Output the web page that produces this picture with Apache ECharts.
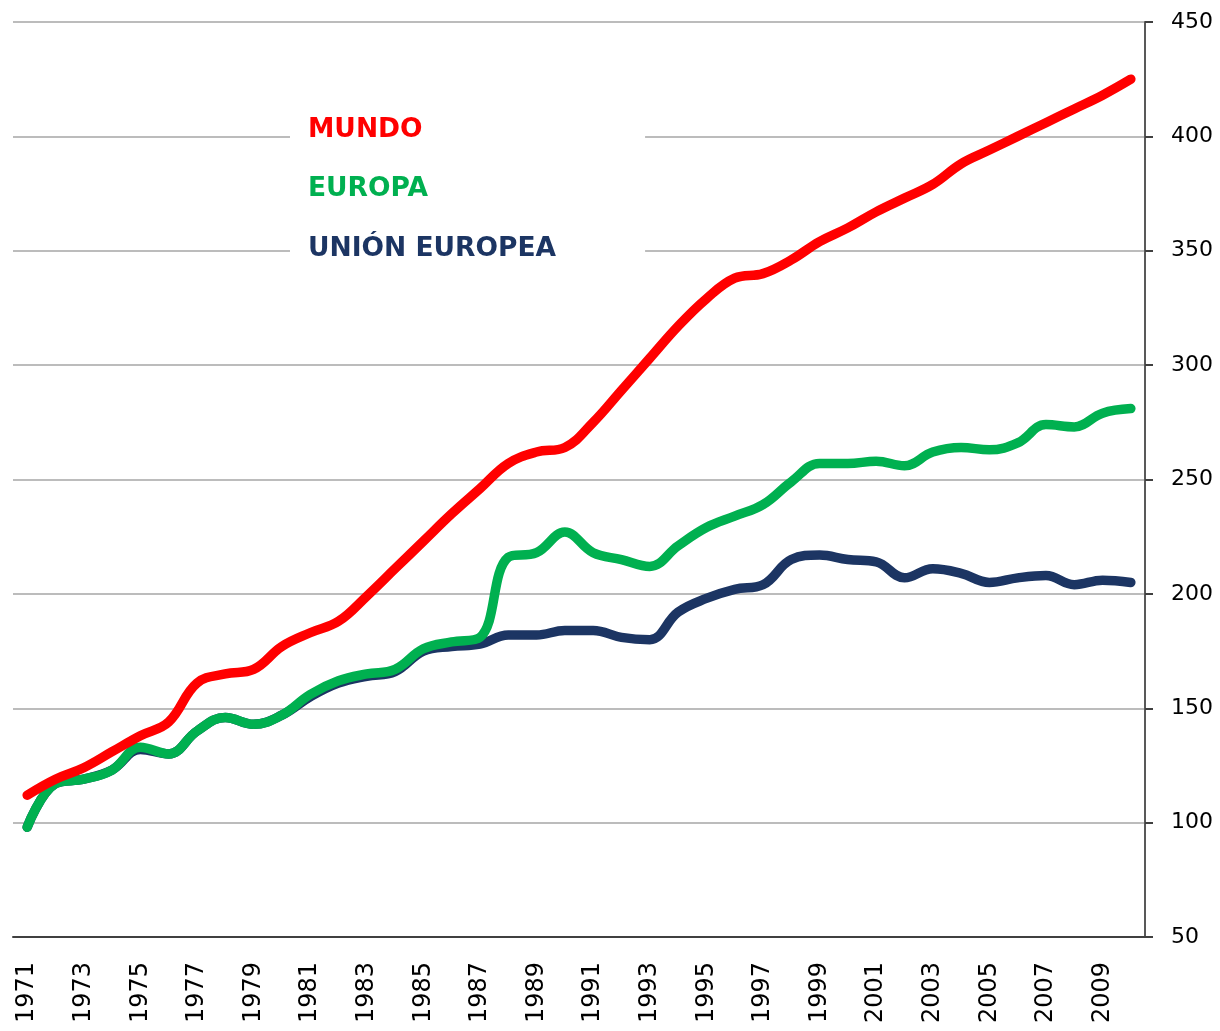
<!DOCTYPE html>
<html>
<head>
<meta charset="utf-8">
<title>Mundo / Europa / Unión Europea</title>
<script src="https://cdn.jsdelivr.net/npm/echarts@6/dist/echarts.min.js"></script>
<style>
  html, body { margin: 0; padding: 0; background: #fff; }
  #chart { width: 1220px; height: 1031px; }
</style>
</head>
<body>
<div id="chart"></div>
<script>
// años
var years = ['1971','1972','1973','1974','1975','1976','1977','1978','1979','1980',
  '1981','1982','1983','1984','1985','1986','1987','1988','1989','1990',
  '1991','1992','1993','1994','1995','1996','1997','1998','1999','2000',
  '2001','2002','2003','2004','2005','2006','2007','2008','2009','2010'];

var mundo = [112,119,124,131,138,144,161,165,167,177,
  183,188,199,211,223,235,246,257,262,264,
  275,289,303,317,329,338,340,346,354,360,
  367,373,379,388,394,400,406,412,418,425];

var europa = [98,117,119,123,133,130,140,146,143,147,
  156,162,165,167,176,179,181,216,218,227,
  218,215,212,221,229,234,239,249,257,257,
  258,256,262,264,263,266,274,273,279,281];

var unionEuropea = [98,117,119,123,132,130,140,146,143,147,
  155,161,164,166,175,177,178,182,182,184,
  184,181,180,192,198,202,204,215,217,215,
  214,207,211,209,205,207,208,204,206,205];

var yTicks = { min: 50, max: 450, interval: 50 };

var chart = echarts.init(document.getElementById('chart'));

function serie(name, data, color, z) {
  return {
    name: name,
    type: 'line',
    data: data,
    smooth: 0.4,
    symbol: 'none',
    z: z,
    lineStyle: { color: color, width: 9.5, cap: 'round', join: 'round' },
    itemStyle: { color: color }
  };
}

chart.setOption({
  backgroundColor: '#ffffff',
  animation: false,
  grid: { left: 13, right: 75, top: 22, bottom: 94 },
  legend: {
    orient: 'vertical',
    left: 290,
    top: 100,
    icon: 'none',
    itemWidth: 0,
    itemHeight: 30,
    itemGap: 29.5,
    padding: [15, 89, 15, 13],
    backgroundColor: '#ffffff',
    selectedMode: false,
    textStyle: {
      fontFamily: 'DejaVu Sans',
      fontWeight: 'bold',
      fontSize: 26.5,
      lineHeight: 30
    },
    data: [
      { name: 'MUNDO', textStyle: { color: '#ff0000' } },
      { name: 'EUROPA', textStyle: { color: '#00b050' } },
      { name: 'UNIÓN EUROPEA', textStyle: { color: '#1c3563' } }
    ]
  },
  xAxis: {
    type: 'category',
    data: years,
    boundaryGap: true,
    axisLine: { show: true, lineStyle: { color: '#404040', width: 2 } },
    axisTick: { show: false },
    axisLabel: {
      interval: 1,
      rotate: 90,
      margin: 25,
      color: '#000',
      fontFamily: 'DejaVu Sans',
      fontSize: 24
    },
    splitLine: { show: false }
  },
  yAxis: {
    type: 'value',
    position: 'right',
    min: yTicks.min,
    max: yTicks.max,
    interval: yTicks.interval,
    axisLine: { show: true, lineStyle: { color: '#595959', width: 2 } },
    axisTick: { show: true, length: 8, lineStyle: { color: '#404040', width: 2 } },
    axisLabel: {
      margin: 26,
      color: '#000',
      fontFamily: 'DejaVu Sans',
      fontSize: 22
    },
    splitLine: { show: true, lineStyle: { color: '#a6a6a6', width: 1.5 } }
  },
  series: [
    serie('MUNDO', mundo, '#ff0000', 4),
    serie('EUROPA', europa, '#00b050', 3),
    serie('UNIÓN EUROPEA', unionEuropea, '#1c3563', 2)
  ]
});
</script>
</body>
</html>
